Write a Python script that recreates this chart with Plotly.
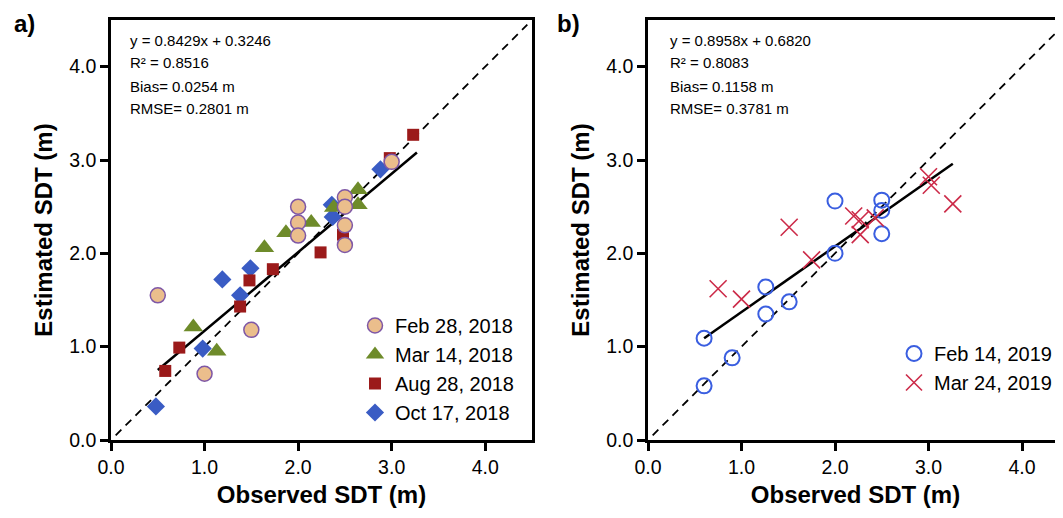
import plotly.graph_objects as go

# ---------------- Panel a data ----------------
feb28_x = [0.5, 1.0, 1.5, 2.0, 2.0, 2.0, 2.5, 2.5, 2.5, 2.5, 3.0]
feb28_y = [1.55, 0.71, 1.18, 2.50, 2.33, 2.19, 2.60, 2.50, 2.30, 2.09, 2.98]
mar14_x = [0.88, 1.13, 1.64, 1.87, 2.14, 2.38, 2.64, 2.64]
mar14_y = [1.21, 0.95, 2.06, 2.22, 2.33, 2.49, 2.68, 2.52]
aug28_x = [0.58, 0.73, 1.38, 1.48, 1.73, 2.24, 2.48, 2.98, 3.23]
aug28_y = [0.74, 0.99, 1.43, 1.71, 1.83, 2.01, 2.20, 3.02, 3.27]
oct17_x = [0.48, 0.98, 1.19, 1.38, 1.49, 2.36, 2.37, 2.88]
oct17_y = [0.36, 0.98, 1.72, 1.55, 1.84, 2.52, 2.39, 2.90]
fit_a_x = [0.5, 3.27]
fit_a_y = [0.75, 3.08]

# ---------------- Panel b data ----------------
feb14_x = [0.6, 0.6, 0.9, 1.26, 1.26, 1.51, 2.0, 2.0, 2.5, 2.5, 2.5]
feb14_y = [1.09, 0.58, 0.88, 1.64, 1.35, 1.48, 2.56, 2.00, 2.57, 2.46, 2.21]
mar24_x = [0.75, 1.0, 1.51, 1.75, 2.2, 2.27, 2.27, 2.43, 3.0, 3.03, 3.26]
mar24_y = [1.62, 1.51, 2.28, 1.93, 2.40, 2.36, 2.20, 2.38, 2.82, 2.73, 2.53]
fit_b_x = [0.6, 3.26]
fit_b_y = [1.09, 2.96]

one_to_one = [0.05, 4.45]

stats_a = ["y = 0.8429x + 0.3246", "R² = 0.8516", "Bias= 0.0254 m", "RMSE= 0.2801 m"]
stats_b = ["y = 0.8958x + 0.6820", "R² = 0.8083", "Bias= 0.1158 m", "RMSE= 0.3781 m"]

tick_vals = [0, 1, 2, 3, 4]
tick_text = ["0.0", "1.0", "2.0", "3.0", "4.0"]

FONT = "Liberation Sans, Arial, sans-serif"

# page offset (default body margin) -> figure is drawn 8px right/down
OFF = 8
W, H = 1063 - OFF, 518 - OFF
L_A, R_A = 111 - OFF, 532 - OFF
L_B = 648 - OFF
TOP, BOT = 20 - OFF, 440 - OFF
PX_PER_UNIT = 93.5


def px_x(p):
    return (p - OFF) / W


def px_y(p):
    return (BOT - (p - OFF)) / (BOT - TOP)


fig = go.Figure()

# Panel a lines
fig.add_trace(go.Scatter(x=one_to_one, y=one_to_one, mode="lines",
                         line=dict(color="black", width=1.8, dash="8px,6px"),
                         showlegend=False, xaxis="x", yaxis="y"))
fig.add_trace(go.Scatter(x=fit_a_x, y=fit_a_y, mode="lines",
                         line=dict(color="black", width=2.5),
                         showlegend=False, xaxis="x", yaxis="y"))
# Panel a markers
fig.add_trace(go.Scatter(x=oct17_x, y=oct17_y, mode="markers", name="Oct 17, 2018",
                         marker=dict(symbol="diamond", size=14, color="#3A5CC4"),
                         legend="legend", legendrank=4, xaxis="x", yaxis="y"))
fig.add_trace(go.Scatter(x=aug28_x, y=aug28_y, mode="markers", name="Aug 28, 2018",
                         marker=dict(symbol="square", size=12, color="#9B1A1A"),
                         legend="legend", legendrank=3, xaxis="x", yaxis="y"))
fig.add_trace(go.Scatter(x=mar14_x, y=mar14_y, mode="markers", name="Mar 14, 2018",
                         marker=dict(symbol="triangle-up", size=17, color="#6E8B2A"),
                         legend="legend", legendrank=2, xaxis="x", yaxis="y"))
fig.add_trace(go.Scatter(x=feb28_x, y=feb28_y, mode="markers", name="Feb 28, 2018",
                         marker=dict(symbol="circle", size=15, color="#EBBE8C",
                                     line=dict(color="#7E57A6", width=1.5)),
                         legend="legend", legendrank=1, xaxis="x", yaxis="y"))

# Panel b lines
fig.add_trace(go.Scatter(x=one_to_one, y=one_to_one, mode="lines",
                         line=dict(color="black", width=1.8, dash="8px,6px"),
                         showlegend=False, xaxis="x2", yaxis="y2"))
fig.add_trace(go.Scatter(x=fit_b_x, y=fit_b_y, mode="lines",
                         line=dict(color="black", width=2.5),
                         showlegend=False, xaxis="x2", yaxis="y2"))
fig.add_trace(go.Scatter(x=feb14_x, y=feb14_y, mode="markers", name="Feb 14, 2019",
                         marker=dict(symbol="circle-open", size=15, color="#3A5EE0",
                                     line=dict(width=2)),
                         legend="legend2", legendrank=1, xaxis="x2", yaxis="y2"))
fig.add_trace(go.Scatter(x=mar24_x, y=mar24_y, mode="markers", name="Mar 24, 2019",
                         marker=dict(symbol="x-thin-open", size=17, color="#CC2A48",
                                     line=dict(width=1.6)),
                         legend="legend2", legendrank=2, xaxis="x2", yaxis="y2"))

axis_common = dict(showline=True, linecolor="black", linewidth=2.5, ticks="outside",
                   ticklen=8, tickwidth=2.5, tickcolor="black", showgrid=False,
                   zeroline=False, tickvals=tick_vals, ticktext=tick_text,
                   automargin=False,
                   tickfont=dict(family=FONT, size=19.5, color="black"))
title_font = dict(family=FONT, size=24, color="black", weight="bold")

fig.update_layout(
    width=W, height=H,
    margin=dict(l=0, r=0, t=TOP, b=H - BOT, autoexpand=False),
    paper_bgcolor="white", plot_bgcolor="white",
    font=dict(family=FONT, color="black"),
    xaxis=dict(domain=[L_A / W, R_A / W], range=[0, 4.5], mirror=True,
               title=dict(text="Observed SDT (m)", font=title_font, standoff=10),
               anchor="y", **axis_common),
    yaxis=dict(domain=[0, 1], range=[0, 4.5], mirror=True,
               title=dict(text="Estimated SDT (m)", font=title_font, standoff=10),
               anchor="x", **axis_common),
    xaxis2=dict(domain=[L_B / W, 1.0], range=[0, (W - L_B) / PX_PER_UNIT], mirror=True,
                title=dict(text="Observed SDT (m)", font=title_font, standoff=10),
                anchor="y2", **axis_common),
    yaxis2=dict(domain=[0, 1], range=[0, 4.5], mirror=False,
                title=dict(text="Estimated SDT (m)", font=title_font, standoff=10),
                anchor="x2", **axis_common),
    legend=dict(x=px_x(355), y=px_y(306), xanchor="left", yanchor="top",
                xref="paper", yref="paper", bgcolor="rgba(0,0,0,0)",
                font=dict(family=FONT, size=20, color="black"),
                traceorder="normal", itemwidth=30),
    legend2=dict(x=px_x(894), y=px_y(334), xanchor="left", yanchor="top",
                 xref="paper", yref="paper", bgcolor="rgba(0,0,0,0)",
                 font=dict(family=FONT, size=20, color="black"),
                 traceorder="normal", itemwidth=30),
)

row_y = [40, 63, 86, 108]
for i, t in enumerate(stats_a):
    fig.add_annotation(text=t, xref="paper", yref="paper",
                       x=px_x(128), y=px_y(row_y[i]),
                       xanchor="left", yanchor="middle", showarrow=False,
                       font=dict(family=FONT, size=15, color="black"))
for i, t in enumerate(stats_b):
    fig.add_annotation(text=t, xref="paper", yref="paper",
                       x=px_x(668), y=px_y(row_y[i]),
                       xanchor="left", yanchor="middle", showarrow=False,
                       font=dict(family=FONT, size=15, color="black"))

for lab, px in [("a)", 24), ("b)", 568)]:
    fig.add_annotation(text=lab, xref="paper", yref="paper", x=px_x(px),
                       y=1.0 + TOP / (BOT - TOP), xanchor="center", yanchor="top",
                       showarrow=False,
                       font=dict(family=FONT, size=24, color="black", weight="bold"))

fig.write_html("out.html")
